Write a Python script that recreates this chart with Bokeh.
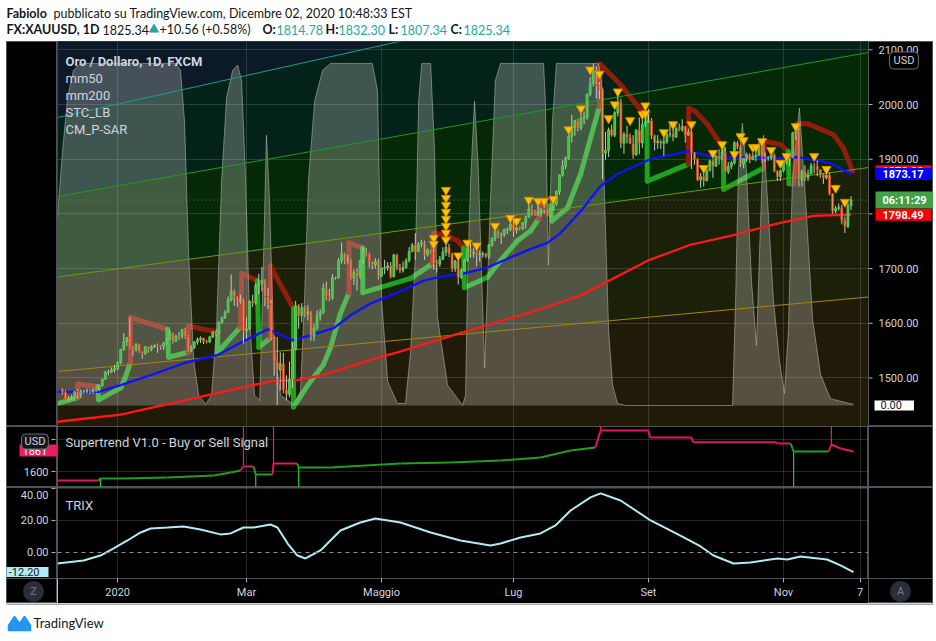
import numpy as np
import pandas as pd
from bokeh.plotting import figure
from bokeh.models import Range1d, FixedTicker, Label, ColumnDataSource, Span, Grid
from bokeh.layouts import column, row
from bokeh.embed import file_html
from bokeh.resources import INLINE
from bokeh.core.properties import value

FONT = "Roboto"
HFONT = "Lato"
TXT = "#d1d4dc"

# ---------------- data ----------------
closes = [
    1474, 1460, 1463, 1465, 1475, 1470, 1476, 1476, 1476, 1475, 1479, 1478, 1486, 1498, 1511, 1511, 1515, 1517,
    1528, 1552, 1566, 1574, 1556, 1552, 1562, 1548, 1545, 1557, 1552, 1557, 1560, 1558, 1557, 1563, 1571, 1582, 1567, 1577, 1576, 1589,
    1576, 1551, 1556, 1566, 1570, 1573, 1567, 1566, 1575, 1584, 1581, 1602, 1611, 1620, 1643, 1659, 1649, 1640, 1643, 1586,
    1590, 1640, 1637, 1668, 1673, 1679, 1649, 1635, 1576, 1530, 1514, 1526, 1478, 1470, 1498, 1553, 1632, 1614, 1629, 1617, 1621, 1577,
    1591, 1614, 1620, 1664, 1648, 1646, 1683, 1683, 1714, 1727, 1716, 1717, 1683, 1693, 1686, 1714, 1730, 1726, 1713, 1707, 1713, 1686,
    1700, 1702, 1705, 1685, 1725, 1702, 1697, 1702, 1715, 1731, 1743, 1731, 1745, 1747, 1725, 1734, 1729, 1709, 1708, 1717, 1730,
    1739, 1727, 1700, 1714, 1684, 1697, 1715, 1737, 1728, 1730, 1725, 1726, 1727, 1722, 1743, 1755, 1768, 1761, 1762, 1771, 1772, 1781,
    1770, 1775, 1773, 1784, 1794, 1809, 1803, 1798, 1802, 1809, 1808, 1796, 1809, 1818, 1841, 1871, 1888, 1902, 1942, 1957, 1971, 1957, 1975,
    1976, 2019, 2038, 2062, 2035, 2028, 1911, 1916, 1954, 1944, 1985, 2003, 1929, 1946, 1940, 1928, 1908, 1953, 1930, 1964, 1968,
    1970, 1943, 1930, 1933, 1929, 1932, 1946, 1946, 1940, 1956, 1954, 1960, 1944, 1950, 1912, 1900, 1862, 1868, 1861, 1880, 1897, 1887,
    1906, 1900, 1913, 1877, 1887, 1893, 1930, 1922, 1891, 1901, 1908, 1899, 1905, 1907, 1924, 1904, 1902, 1902, 1908, 1878, 1868, 1879,
    1894, 1910, 1903, 1948, 1951, 1862, 1877, 1866, 1873, 1888, 1887, 1881, 1871, 1866, 1871, 1837, 1805, 1810, 1812, 1788, 1777,
    1815, 1825.34,
]
highs = [
    1481, 1477, 1467, 1469, 1476, 1479, 1479, 1478, 1481, 1479, 1481, 1481, 1488, 1499, 1513, 1515, 1519, 1524,
    1530, 1553, 1582, 1575, 1611, 1558, 1563, 1562, 1549, 1558, 1556, 1560, 1561, 1563, 1560, 1566, 1573, 1587, 1583, 1579, 1584, 1589,
    1592, 1578, 1560, 1567, 1574, 1576, 1573, 1570, 1577, 1586, 1586, 1603, 1612, 1624, 1649, 1689, 1662, 1650, 1652, 1646,
    1611, 1642, 1652, 1673, 1690, 1703, 1681, 1665, 1643, 1578, 1575, 1547, 1546, 1505, 1530, 1565, 1641, 1635, 1637, 1632, 1633, 1623,
    1599, 1624, 1626, 1673, 1676, 1663, 1690, 1685, 1719, 1748, 1729, 1725, 1718, 1698, 1700, 1716, 1739, 1738, 1729, 1713, 1719, 1718,
    1702, 1716, 1712, 1712, 1727, 1727, 1709, 1713, 1719, 1739, 1747, 1765, 1748, 1753, 1751, 1737, 1735, 1736, 1715, 1723, 1739,
    1745, 1745, 1729, 1716, 1714, 1701, 1718, 1745, 1745, 1737, 1735, 1733, 1731, 1729, 1745, 1757, 1779, 1771, 1766, 1773, 1775, 1785,
    1789, 1776, 1777, 1785, 1797, 1818, 1817, 1807, 1817, 1810, 1815, 1810, 1811, 1820, 1843, 1872, 1898, 1905, 1945, 1981, 1971, 1974, 1984,
    1987, 2020, 2050, 2075, 2070, 2041, 2031, 1950, 1958, 1963, 1988, 2015, 2011, 1950, 1961, 1947, 1944, 1955, 1976, 1975, 1984,
    1992, 1975, 1945, 1944, 1936, 1943, 1953, 1966, 1961, 1961, 1965, 1973, 1961, 1956, 1955, 1913, 1902, 1875, 1876, 1884, 1899, 1900,
    1908, 1918, 1920, 1921, 1895, 1897, 1933, 1933, 1925, 1902, 1912, 1911, 1912, 1913, 1932, 1926, 1912, 1906, 1911, 1911, 1880, 1881,
    1895, 1910, 1911, 1950, 1960, 1966, 1881, 1889, 1881, 1893, 1893, 1898, 1879, 1874, 1879, 1875, 1838, 1815, 1819, 1817, 1795,
    1820, 1832.30,
]
lows = [
    1470, 1458, 1457, 1460, 1461, 1462, 1463, 1472, 1472, 1471, 1472, 1474, 1477, 1484, 1497, 1505, 1509, 1510,
    1514, 1525, 1550, 1558, 1553, 1541, 1548, 1546, 1535, 1542, 1546, 1549, 1555, 1546, 1552, 1551, 1561, 1570, 1563, 1566, 1570, 1572,
    1572, 1548, 1547, 1553, 1561, 1564, 1562, 1563, 1564, 1573, 1578, 1580, 1599, 1608, 1621, 1640, 1632, 1630, 1636, 1563,
    1572, 1587, 1630, 1634, 1653, 1658, 1631, 1626, 1569, 1504, 1451, 1477, 1472, 1459, 1465, 1482, 1551, 1590, 1602, 1611, 1605, 1568,
    1568, 1588, 1605, 1617, 1642, 1641, 1643, 1680, 1682, 1709, 1708, 1709, 1680, 1670, 1660, 1682, 1709, 1722, 1702, 1699, 1700, 1680,
    1685, 1690, 1696, 1682, 1684, 1697, 1692, 1693, 1700, 1711, 1730, 1716, 1731, 1739, 1716, 1722, 1727, 1698, 1693, 1703, 1716,
    1723, 1721, 1694, 1694, 1671, 1681, 1695, 1712, 1720, 1720, 1704, 1713, 1720, 1719, 1718, 1740, 1750, 1756, 1745, 1758, 1763, 1768,
    1758, 1764, 1770, 1770, 1773, 1793, 1797, 1796, 1797, 1795, 1800, 1795, 1795, 1806, 1815, 1835, 1868, 1882, 1899, 1931, 1943, 1951, 1953,
    1964, 1972, 2015, 2033, 2011, 2010, 1863, 1899, 1904, 1941, 1940, 1978, 1920, 1910, 1929, 1928, 1901, 1906, 1909, 1921, 1959,
    1966, 1937, 1916, 1919, 1919, 1906, 1928, 1940, 1933, 1940, 1951, 1950, 1930, 1943, 1882, 1890, 1860, 1848, 1850, 1859, 1877, 1866,
    1886, 1890, 1898, 1876, 1873, 1882, 1890, 1918, 1886, 1883, 1895, 1893, 1900, 1896, 1906, 1894, 1895, 1897, 1898, 1876, 1860, 1860,
    1876, 1890, 1887, 1904, 1935, 1850, 1850, 1860, 1860, 1873, 1874, 1869, 1866, 1855, 1863, 1834, 1800, 1801, 1806, 1781, 1765,
    1774, 1807.34,
]
first_open = 1477.0
last_open = 1814.78

tick_dates = ["2020-01-02", "2020-03-02", "2020-05-01", "2020-07-01", "2020-09-01", "2020-11-02", "2020-12-07"]
tick_labels = ["2020", "Mar", "Maggio", "Lug", "Set", "Nov", "7"]
price_ticks = [1500, 1600, 1700, 1800, 1900, 2000, 2100]
st_ticks = [1600, 2000]
trix_ticks = [0, 20, 40]

mm50_idx = [-1.6, 11.8, 19, 28.7, 39.5, 50.6, 59, 66.9, 75.3, 83.1, 88.4, 93.9, 100.4, 109.2, 117.7, 123.2, 130.7,
            138.5, 145.1, 152.6, 158.1, 162.3, 168.9, 175.4, 180.9, 191.6, 203.7, 207, 212.2, 231.7, 239.6, 250.3, 257]
mm50_val = [1474.5, 1474.5, 1487, 1505, 1527, 1542, 1567, 1589, 1569, 1582, 1591, 1614.5, 1636, 1656, 1678, 1685, 1691,
            1702, 1718, 1736, 1747, 1765, 1805, 1851, 1873, 1900, 1914.5, 1911, 1904, 1902, 1904, 1893, 1873.17]
mm200_idx = [-1.6, 19, 36.2, 58, 68.8, 76.6, 85.1, 100.4, 109.2, 130.7, 152.6, 162.3, 168.9, 190.7, 204.7, 217.7, 234, 244.8, 257]
mm200_val = [1420, 1433, 1454.5, 1482, 1494.5, 1496, 1505.5, 1533, 1547, 1584, 1620, 1638, 1651, 1714.5, 1743.6, 1760, 1783.6, 1796.4, 1798.49]

stc_idx = [-1.6, 0.1, 1.7, 3.6, 5.9, 36.9, 38.5, 39.8, 41.1, 42.8, 44.4, 46.7, 48.6, 50.2, 51.9, 53.5, 55.5, 57.1, 58.4,
           59.7, 61, 62.6, 64.3, 65.6, 66.5, 67.5, 68.8, 71.1, 75.3, 77.6, 78.9, 80.2, 82.2, 84.8, 87.4, 101, 102.7, 104,
           106, 109.2, 111.8, 113.5, 115.1, 116.1, 117.1, 120, 121.3, 122.2, 125.5, 130.4, 131.4, 132, 133, 134.3, 135.5,
           137.6, 139.5, 141.1, 142.8, 156.8, 157.4, 158.4, 159.7, 161, 174.7, 175.7, 176.7, 178, 179.3, 180.9, 183.5,
           218.4, 219.4, 220.3, 221.6, 222.9, 224.6, 226.2, 227.2, 228.5, 229.8, 231.7, 233.7, 235.3, 236.6, 237.9, 240.2,
           242.2, 244.5, 247.1, 250.3, 257.8]
stc_val = [55, 75, 90, 98, 100, 100, 98, 83, 45, 13, 3, 0.3, 3, 22, 66, 90, 98, 99.5, 95,
           66, 25, 3, 1.5, 45, 79, 60, 19, 3, 0.3, 4, 31, 66, 89, 98, 100, 100, 92, 31,
           7, 0.6, 0.6, 16, 45, 89, 100, 100, 74, 26, 6, 0, 3, 36, 65, 89, 70,
           11, 60, 95, 100, 100, 89, 41, 83, 100, 100, 95, 60, 22, 6, 0.6, 0,
           0, 31, 69, 82.5, 69, 36, 17.5, 45, 79, 60, 31, 13, 3.5, 22, 66, 87,
           60, 25, 9, 2, 0.3]

sar_idx = [-1.6, 5, 5, 11.5, 11.8, 19, 20.6, 22.2, 22.2, 34.3, 34.6, 41, 41, 50.6, 50.6, 58, 58.5, 63.5, 64, 67.8,
           67.8, 75.3, 75.3, 80, 85, 87.4, 90.6, 93.4, 93.4, 97.8, 97.9, 113.5, 120.6, 121, 125.5, 128.8, 130.7, 131,
           138.5, 142.8, 148.3, 152.6, 155.2, 155.5, 159, 159.5, 164.6, 168.9, 172.1, 175, 175.2, 181.9, 188.4, 190.5,
           190.6, 204, 204.1, 206.3, 210.2, 215.4, 215.5, 228.5, 228.8, 234, 236.6, 236.8, 238.3, 239.5, 242.8, 251.3,
           254.6, 257.5]
sar_val = [1453, 1464, 1489, 1484, 1460, 1482, 1502, 1529, 1611, 1589, 1538, 1547, 1595, 1584, 1547, 1593, 1691, 1678,
           1556, 1573, 1705, 1627, 1447, 1487, 1524, 1556, 1618, 1656, 1747, 1738, 1656, 1682, 1709, 1765, 1760, 1751,
           1738, 1665, 1684, 1715, 1751, 1769, 1791, 1818, 1815, 1787, 1811, 1873, 1938, 1996, 2074, 2036, 1991, 1982,
           1860, 1891, 1993, 1987, 1964, 1920, 1845, 1884, 1933, 1927, 1914, 1855, 1855, 1965, 1965, 1945, 1920, 1878]
sar_dir = [1, 1, -1, -1, 1, 1, 1, 1, -1, -1, 1, 1, -1, -1, 1, 1, -1, -1, 1, 1,
           -1, -1, 1, 1, 1, 1, 1, 1, -1, -1, 1, 1, 1, -1, -1, -1, -1, 1, 1, 1,
           1, 1, 1, -1, -1, 1, 1, 1, 1, 1, -1, -1, -1, -1, 1, 1, -1, -1, -1, -1,
           1, 1, -1, -1, -1, 1, 1, -1, -1, -1, -1, -1]

st_idx = [-1.6, 11.8, 12.4, 20, 34.3, 49.3, 54.8, 58, 59, 62.3, 63, 68.5, 68.8, 76.5, 77, 87.4, 110.2, 126.5,
          142.8, 155.8, 165.6, 173.7, 175.4, 191, 191.5, 205, 205.5, 232.5, 233, 237.3, 238.3, 249.7, 250.6, 253.6, 257.8]
st_val = [1487.5, 1487.5, 1512.5, 1512.5, 1525, 1550, 1587.5, 1612.5, 1662.5, 1662.5, 1562.5, 1562.5, 1700, 1700,
          1650, 1650, 1700, 1712.5, 1737.5, 1775, 1862.5, 1900, 2112.5, 2112.5, 2025, 2025, 1966, 1966, 1950, 1950,
          1850, 1850, 1937.5, 1887.5, 1850]
st_dir = [-1, -1, 1, 1, 1, 1, 1, 1, -1, -1, 1, 1, -1, -1, 1, 1, 1, 1, 1, 1, 1, 1, -1, -1, -1, -1, -1, -1, -1, -1,
          1, 1, -1, -1, -1]
sig_sell_idx = [59, 68.8, 175.4, 250.6]
sig_buy_idx = [12.4, 63, 77, 238.3]

trix_idx = [-1.6, 6.9, 12.4, 16.7, 21.2, 25.5, 28.7, 34.3, 39.5, 45, 51.5, 54.8, 59, 62.3, 67.8, 70.1, 73.4, 76.6,
            79.2, 84.1, 90.6, 97.1, 102, 110.2, 120, 129.7, 139.5, 142.8, 149.3, 155.8, 160.7, 165.6, 172.1, 175.4,
            181.9, 191.7, 201.4, 208, 212.2, 218.7, 224.2, 233, 236.3, 240.5, 249.2, 253.6, 257.8]
trix_val = [-6.9, -5, -1.9, 2.5, 7.5, 12.5, 15, 15.6, 16.3, 14.4, 11.3, 11.9, 15.6, 15.6, 17.5, 15.6, 5.6, -1.9,
            -3.75, 1.25, 13.75, 18.75, 21.25, 18.75, 12.5, 7.5, 4.4, 5.6, 9.4, 11.9, 16.9, 26.25, 34.4, 36.9,
            32.5, 20, 10.6, 3.75, -1.9, -6.9, -6.25, -3.75, -4.4, -2.5, -4.4, -8.1, -12.2]

tri_idx = [121, 121, 125, 125, 125, 125, 125, 125, 125, 125, 129, 132, 135, 141, 146, 148, 152, 155, 157, 160,
           165, 169, 172, 175, 178, 180, 181, 185, 189, 190, 190, 196, 199, 205, 209, 212, 215, 219, 221, 222,
           225, 226, 228, 231, 234, 236, 239, 245, 249, 252, 255]
tri_val = [1756, 1745, 1843.6, 1829, 1816.3, 1803.6, 1791, 1778, 1765.4, 1752.7, 1723.6, 1747, 1742, 1778, 1792.7,
           1787, 1825.5, 1823.6, 1823.6, 1827, 1954.5, 1992.7, 2063.6, 2056, 1974.5, 2000, 2023.6, 1971, 1982, 1998,
           1983.6, 1949, 1963.6, 1963.6, 1883.6, 1911, 1927, 1909, 1941.8, 1934.5, 1921.8, 1921.8, 1932.7, 1916.4,
           1892.7, 1905.4, 1960, 1905.4, 1881.8, 1847.3, 1821.8]

chan_left = [1976.2, 1831.8, 1684.6, 1511.9]
chan_right = [2306.3, 2095.1, 1884.8, 1648.1]

st_last_label = "1861"
countdown = "06:11:29"

# ---------------- styles ----------------
chan_colors = ["#16a08c", "#1e9c1e", "#6f9a12", "#a8860f"]
band_colors = ["#0b1a26", "#032219", "#052805", "#1a2108", "#221a08"]
UPF, UPL, DNF, DNL = "#3fbe3f", "#62d862", "#e89a5c", "#d8401c"
SAR_G, SAR_R = "#1fa31f", "#8f1d0b"
ST_G, ST_R = "#1f9e1f", "#d81b60"
GRID = "#9598a1"
OUT = "#4f5258"

# ---------------- derived positions ----------------
hol = pd.to_datetime(["2019-12-25", "2020-01-01"])
all_dates = pd.bdate_range("2019-12-05", "2020-12-07")
all_dates = all_dates[~all_dates.isin(hol)]
n = len(closes)
idx = np.arange(n)
tick_idx = [int(all_dates.get_loc(pd.Timestamp(d))) for d in tick_dates]

opens = [first_open] + closes[:-1]
opens[-1] = last_open
o = np.array(opens, float)
c = np.array(closes, float)
h = np.maximum(np.array(highs, float), np.maximum(o, c))
l = np.minimum(np.array(lows, float), np.minimum(o, c))
up = c >= o
csrc = ColumnDataSource(dict(
    x=idx, h=h, l=l, top=np.maximum(o, c), bot=np.minimum(o, c),
    fill=[UPF if u else DNF for u in up], line=[UPL if u else DNL for u in up]))

# ranges
X0, X1 = -1.6, 262.7
FL, FR = 57, 868
Y0, Y1 = 1411.3, 2115.2
S0, S1 = 1400.0, 2162.5
T0, T1 = -16.25, 40.6
TPX = (T1 - T0) / 91.0
TB = T1 - 116 * TPX          # TRIX side panels also cover the time-axis strip


def mx(px):
    return X0 + (px - FL) * (X1 - X0) / (FR - FL)


def my(py):
    return Y1 - (py - 41) * (Y1 - Y0) / 385


def sy(py):
    return S1 - (py - 426) * (S1 - S0) / 61


def ty(py):
    return T1 - (py - 487) * TPX


def lab(fig, x, y, text, size="11px", color=TXT, bold=False, align="left", bg=None, border=None,
        pad=None, radius=None, yname=None, font=FONT):
    kw = dict(x=x, y=y, text=text, text_font=font, text_font_size=size, text_color=color,
              text_font_style="bold" if bold else "normal", text_align=align, text_baseline="middle")
    if yname:
        kw["y_range_name"] = yname
    if bg:
        kw.update(background_fill_color=bg, background_fill_alpha=1.0)
    if border:
        kw.update(border_line_color=border, border_line_alpha=1.0, border_line_width=1)
    if pad is not None:
        kw["padding"] = pad
    if radius is not None:
        kw["border_radius"] = radius
    fig.add_layout(Label(**kw))


def P(a, b, t, d):
    return dict(left=a, right=b, top=t, bottom=d)


def add_grid(fig, dim, ticks):
    fig.add_layout(Grid(dimension=dim, ticker=FixedTicker(ticks=ticks), grid_line_color=GRID,
                        grid_line_alpha=0.25, grid_line_width=1), "center")


def blank(width, height, y_range, bg="black", outline=OUT, xr=None):
    f = figure(width=width, height=height, x_range=xr if xr is not None else Range1d(0, width), y_range=y_range,
               toolbar_location=None, output_backend="svg", x_axis_location=None, y_axis_location=None,
               min_border=0, background_fill_color=bg, border_fill_color=bg, outline_line_color=outline)
    f.frame_align = False
    f.grid.visible = False
    return f


def side_ticks(f, ticks, texts, side, offsets=None):
    offs = offsets if offsets is not None else [0] * len(ticks)
    if side == "right":
        f.segment(x0=[0] * len(ticks), y0=ticks, x1=[4] * len(ticks), y1=ticks, line_color="#b2b5be")
        src = ColumnDataSource(dict(x=[10] * len(ticks), y=ticks, t=texts, dy=offs))
        f.text(x="x", y="y", text="t", y_offset="dy", source=src, text_align="left", text_baseline="middle",
               text_font=value(FONT), text_font_size="11px", text_color=TXT)
    else:
        w = f.x_range.end
        f.segment(x0=[w - 6] * len(ticks), y0=ticks, x1=[w - 2] * len(ticks), y1=ticks, line_color="#b2b5be")
        src = ColumnDataSource(dict(x=[w - 9] * len(ticks), y=ticks, t=texts, dy=offs))
        f.text(x="x", y="y", text="t", y_offset="dy", source=src, text_align="right", text_baseline="middle",
               text_font=value(FONT), text_font_size="11px", text_color=TXT)


xr = Range1d(X0, X1)
LW, CW, RW = 51, 811, 65

# ---------------- header ----------------
hdr = blank(936, 41, Range1d(41, 0), bg="white", outline=None)
DK, TEAL = "#131722", "#26a69a"
for t, x, y, col, b in [
    ("Fabiolo", 6, 13, DK, True),
    ("pubblicato su TradingView.com, Dicembre 02, 2020 10:48:33 EST", 53, 13, DK, False),
    ("FX:XAUUSD, 1D", 6, 29, DK, True), ("1825.34", 102, 29, DK, False),
    ("+10.56 (+0.58%)", 159, 29, DK, False),
    ("O:", 262, 29, DK, True), ("1814.78", 276, 29, TEAL, False),
    ("H:", 325, 29, DK, True), ("1832.30", 338, 29, TEAL, False),
    ("L:", 388, 29, DK, True), ("1807.34", 400, 29, TEAL, False),
    ("C:", 450, 29, DK, True), ("1825.34", 463, 29, TEAL, False)]:
    lab(hdr, x, y, t, size="12.5px", color=col, bold=b, font=HFONT)
hdr.scatter([153.5], [29], marker="triangle", size=9, fill_color=TEAL, line_color=TEAL)

# ---------------- main pane ----------------
main_y = Range1d(Y0, Y1)
stc_y = Range1d(-6.14, 106.4)
main = blank(CW, 385, main_y, xr=xr)
main.extra_y_ranges = {"stc": stc_y}

bl = [Y1 + 600] + chan_left + [Y0 - 600]
br = [Y1 + 600] + chan_right + [Y0 - 600]
main.patches(xs=[[X0, X1, X1, X0] for _ in range(5)],
             ys=[[bl[k], br[k], br[k + 1], bl[k + 1]] for k in range(5)],
             fill_color=band_colors, line_color=None, level="image")
add_grid(main, 0, tick_idx)
add_grid(main, 1, price_ticks)

sar_cols = [SAR_G if d > 0 else SAR_R for d in sar_dir[1:]]
main.segment(x0=sar_idx[:-1], y0=sar_val[:-1], x1=sar_idx[1:], y1=sar_val[1:], line_color=sar_cols,
             line_width=5, line_cap="round")

main.varea(x=stc_idx, y1=[0] * len(stc_idx), y2=stc_val, fill_color="white", fill_alpha=0.24, y_range_name="stc")
main.line(stc_idx, stc_val, line_color="#c8c8be", line_alpha=0.5, line_width=1, y_range_name="stc")

main.segment(x0=[X0] * 4, y0=chan_left, x1=[X1] * 4, y1=chan_right, line_color=chan_colors, line_width=1)

main.line(mm200_idx, mm200_val, line_color="#ff1a1a", line_width=2.3)
main.line(mm50_idx, mm50_val, line_color="#1010ff", line_width=2.3)

main.segment(x0="x", y0="l", x1="x", y1="h", source=csrc, line_color="#c8c8c8", line_width=1)
main.vbar(x="x", width=0.62, top="top", bottom="bot", source=csrc, fill_color="fill", line_color="line",
          line_width=0.8)
main.scatter(tri_idx, tri_val, marker="inverted_triangle", size=9, fill_color="#ffc400", line_color="#d98a00")
main.add_layout(Span(location=closes[-1], dimension="width", line_color="#43a047", line_dash="1 3", line_width=1))

lab(main, mx(65), my(61), "Oro / Dollaro, 1D, FXCM", size="13px", bold=True)
for t, py in [("mm50", 78), ("mm200", 95), ("STC_LB", 112), ("CM_P-SAR", 129)]:
    lab(main, mx(65), my(py), t, size="13px")

main_l = blank(LW, 385, main_y)
main_r = blank(RW, 385, main_y)
main_r.extra_y_ranges = {"stc": stc_y}
side_ticks(main_r, price_ticks, ["%.2f" % t for t in price_ticks], "right")
lab(main_r, 21, my(60), "USD", color=TXT, bg="#000000", border="#6a6d78", pad=P(4, 4, 2, 2), radius=4)
BOX = P(7, 8, 2, 2)
lab(main_r, 7, sar_val[-1], "%.2f" % sar_val[-1], color="white", bold=True, bg="#ff0000", pad=BOX)
lab(main_r, 7, mm50_val[-1], "%.2f" % mm50_val[-1], color="white", bold=True, bg="#0000ff", pad=BOX)
lab(main_r, 7, closes[-1], countdown, color="white", bold=True, bg="#43a047", pad=BOX)
lab(main_r, 7, mm200_val[-1], "%.2f" % mm200_val[-1], color="white", bold=True, bg="#ff0000", pad=BOX)
lab(main_r, 6, 0, "0.00", color="#131722", bg="#ffffff", pad=P(6, 12, 1, 1), yname="stc")

# ---------------- supertrend pane ----------------
st_y = Range1d(S0, S1)
stf = blank(CW, 61, st_y, xr=xr)
add_grid(stf, 0, tick_idx)
add_grid(stf, 1, st_ticks)
st_cols = [ST_G if d > 0 else ST_R for d in st_dir[1:]]
stf.segment(x0=st_idx[:-1], y0=st_val[:-1], x1=st_idx[1:], y1=st_val[1:], line_color=st_cols, line_width=2)
sell_y = [st_val[st_idx.index(v)] for v in sig_sell_idx]
buy_y = [st_val[st_idx.index(v)] if v in st_idx else 1650 for v in sig_buy_idx]
stf.segment(x0=sig_sell_idx, y0=sell_y, x1=sig_sell_idx, y1=[S1 + 100] * 4, line_color="#ff2020", line_width=1.2)
stf.segment(x0=sig_buy_idx, y0=buy_y, x1=sig_buy_idx, y1=[S0 - 100] * 4, line_color="#22cc22", line_width=1.2)
lab(stf, mx(65), sy(442), "Supertrend V1.0 - Buy or Sell Signal", size="13px")

st_l = blank(LW, 61, st_y)
side_ticks(st_l, st_ticks, [str(t) for t in st_ticks], "left")
lab(st_l, 13, sy(450), st_last_label, color="white", bg="#e91e63", pad=P(3, 12, 2, 2))
lab(st_l, 15, sy(441), "USD", color=TXT, bg="#131722", border="#6a6d78", pad=P(3, 3, 1, 1), radius=4)
st_r = blank(RW, 61, st_y)

# ---------------- TRIX pane + time axis ----------------
tr_y = Range1d(T0, T1)
trx = figure(width=CW, height=116, x_range=xr, y_range=tr_y, toolbar_location=None, output_backend="svg",
             x_axis_location="below", y_axis_location=None, min_border=0, min_border_bottom=25,
             background_fill_color="black", border_fill_color="black", outline_line_color=OUT)
trx.frame_align = False
trx.grid.visible = False
add_grid(trx, 0, tick_idx)
add_grid(trx, 1, [20, 40])
trx.add_layout(Span(location=0, dimension="width", line_color="#8b8f99", line_dash="4 4", line_width=1))
trx.line(trix_idx, trix_val, line_color="#b2ebf2", line_width=2)
bx = trx.xaxis[0]
bx.ticker = FixedTicker(ticks=tick_idx)
bx.major_label_overrides = {int(k): v for k, v in zip(tick_idx, tick_labels)}
bx.axis_line_color = None
bx.major_tick_line_color = "#b2b5be"
bx.major_tick_out = 4
bx.major_tick_in = 0
bx.minor_tick_line_color = None
bx.major_label_text_font = FONT
bx.major_label_text_font_size = "11px"
bx.major_label_text_color = TXT
bx.major_label_standoff = 3
lab(trx, mx(65), ty(505), "TRIX", size="13px")

side_y = Range1d(TB, T1)
tr_l = blank(LW, 116, side_y)
tr_r = blank(RW, 116, side_y)
side_ticks(tr_l, trix_ticks, ["%.2f" % t for t in trix_ticks], "left", offsets=[0, 0, 7])
for f, w in [(tr_l, LW), (tr_r, RW)]:
    f.segment(x0=[0], y0=[T0], x1=[w], y1=[T0], line_color=OUT, line_width=1)
lab(tr_l, 42, trix_val[-1], "-12.20", color="#131722", align="right", bg="#b2ebf2", pad=P(14, 9, 1, 1))
ZY = ty(591)
tr_l.scatter([27], [ZY], marker="circle", size=21, fill_color="#2a2e39", line_color=None)
tr_l.text([27], [ZY], text=["Z"], text_align="center", text_baseline="middle", text_font=value(FONT),
          text_font_size="11px", text_color="#787b86")
tr_r.scatter([32], [ZY], marker="circle", size=21, fill_color="#2a2e39", line_color=None)
tr_r.text([32], [ZY], text=["A"], text_align="center", text_baseline="middle", text_font=value(FONT),
          text_font_size="11px", text_color="#787b86")

# ---------------- footer ----------------
ftr = blank(936, 38, Range1d(38, 0), bg="white", outline=None)
ftr.segment(x0=[6], y0=[0.5], x1=[933], y1=[0.5], line_color=OUT, line_width=1)
ftr.patch(x=[8, 8, 14, 19, 24, 30, 30], y=[27, 22, 13, 20, 13, 22, 27], fill_color="#2196f3", line_color="#2196f3",
          line_width=1.5, line_join="round")
lab(ftr, 33, 19, "TradingView", size="13px", color="#131722", font=HFONT)

for f in (main_l, st_l, tr_l):
    f.margin = (0, 0, 0, 6)

layout = column(hdr, row(main_l, main, main_r), row(st_l, stf, st_r), row(tr_l, trx, tr_r), ftr)
open("out.html", "w").write(file_html(layout, INLINE))
